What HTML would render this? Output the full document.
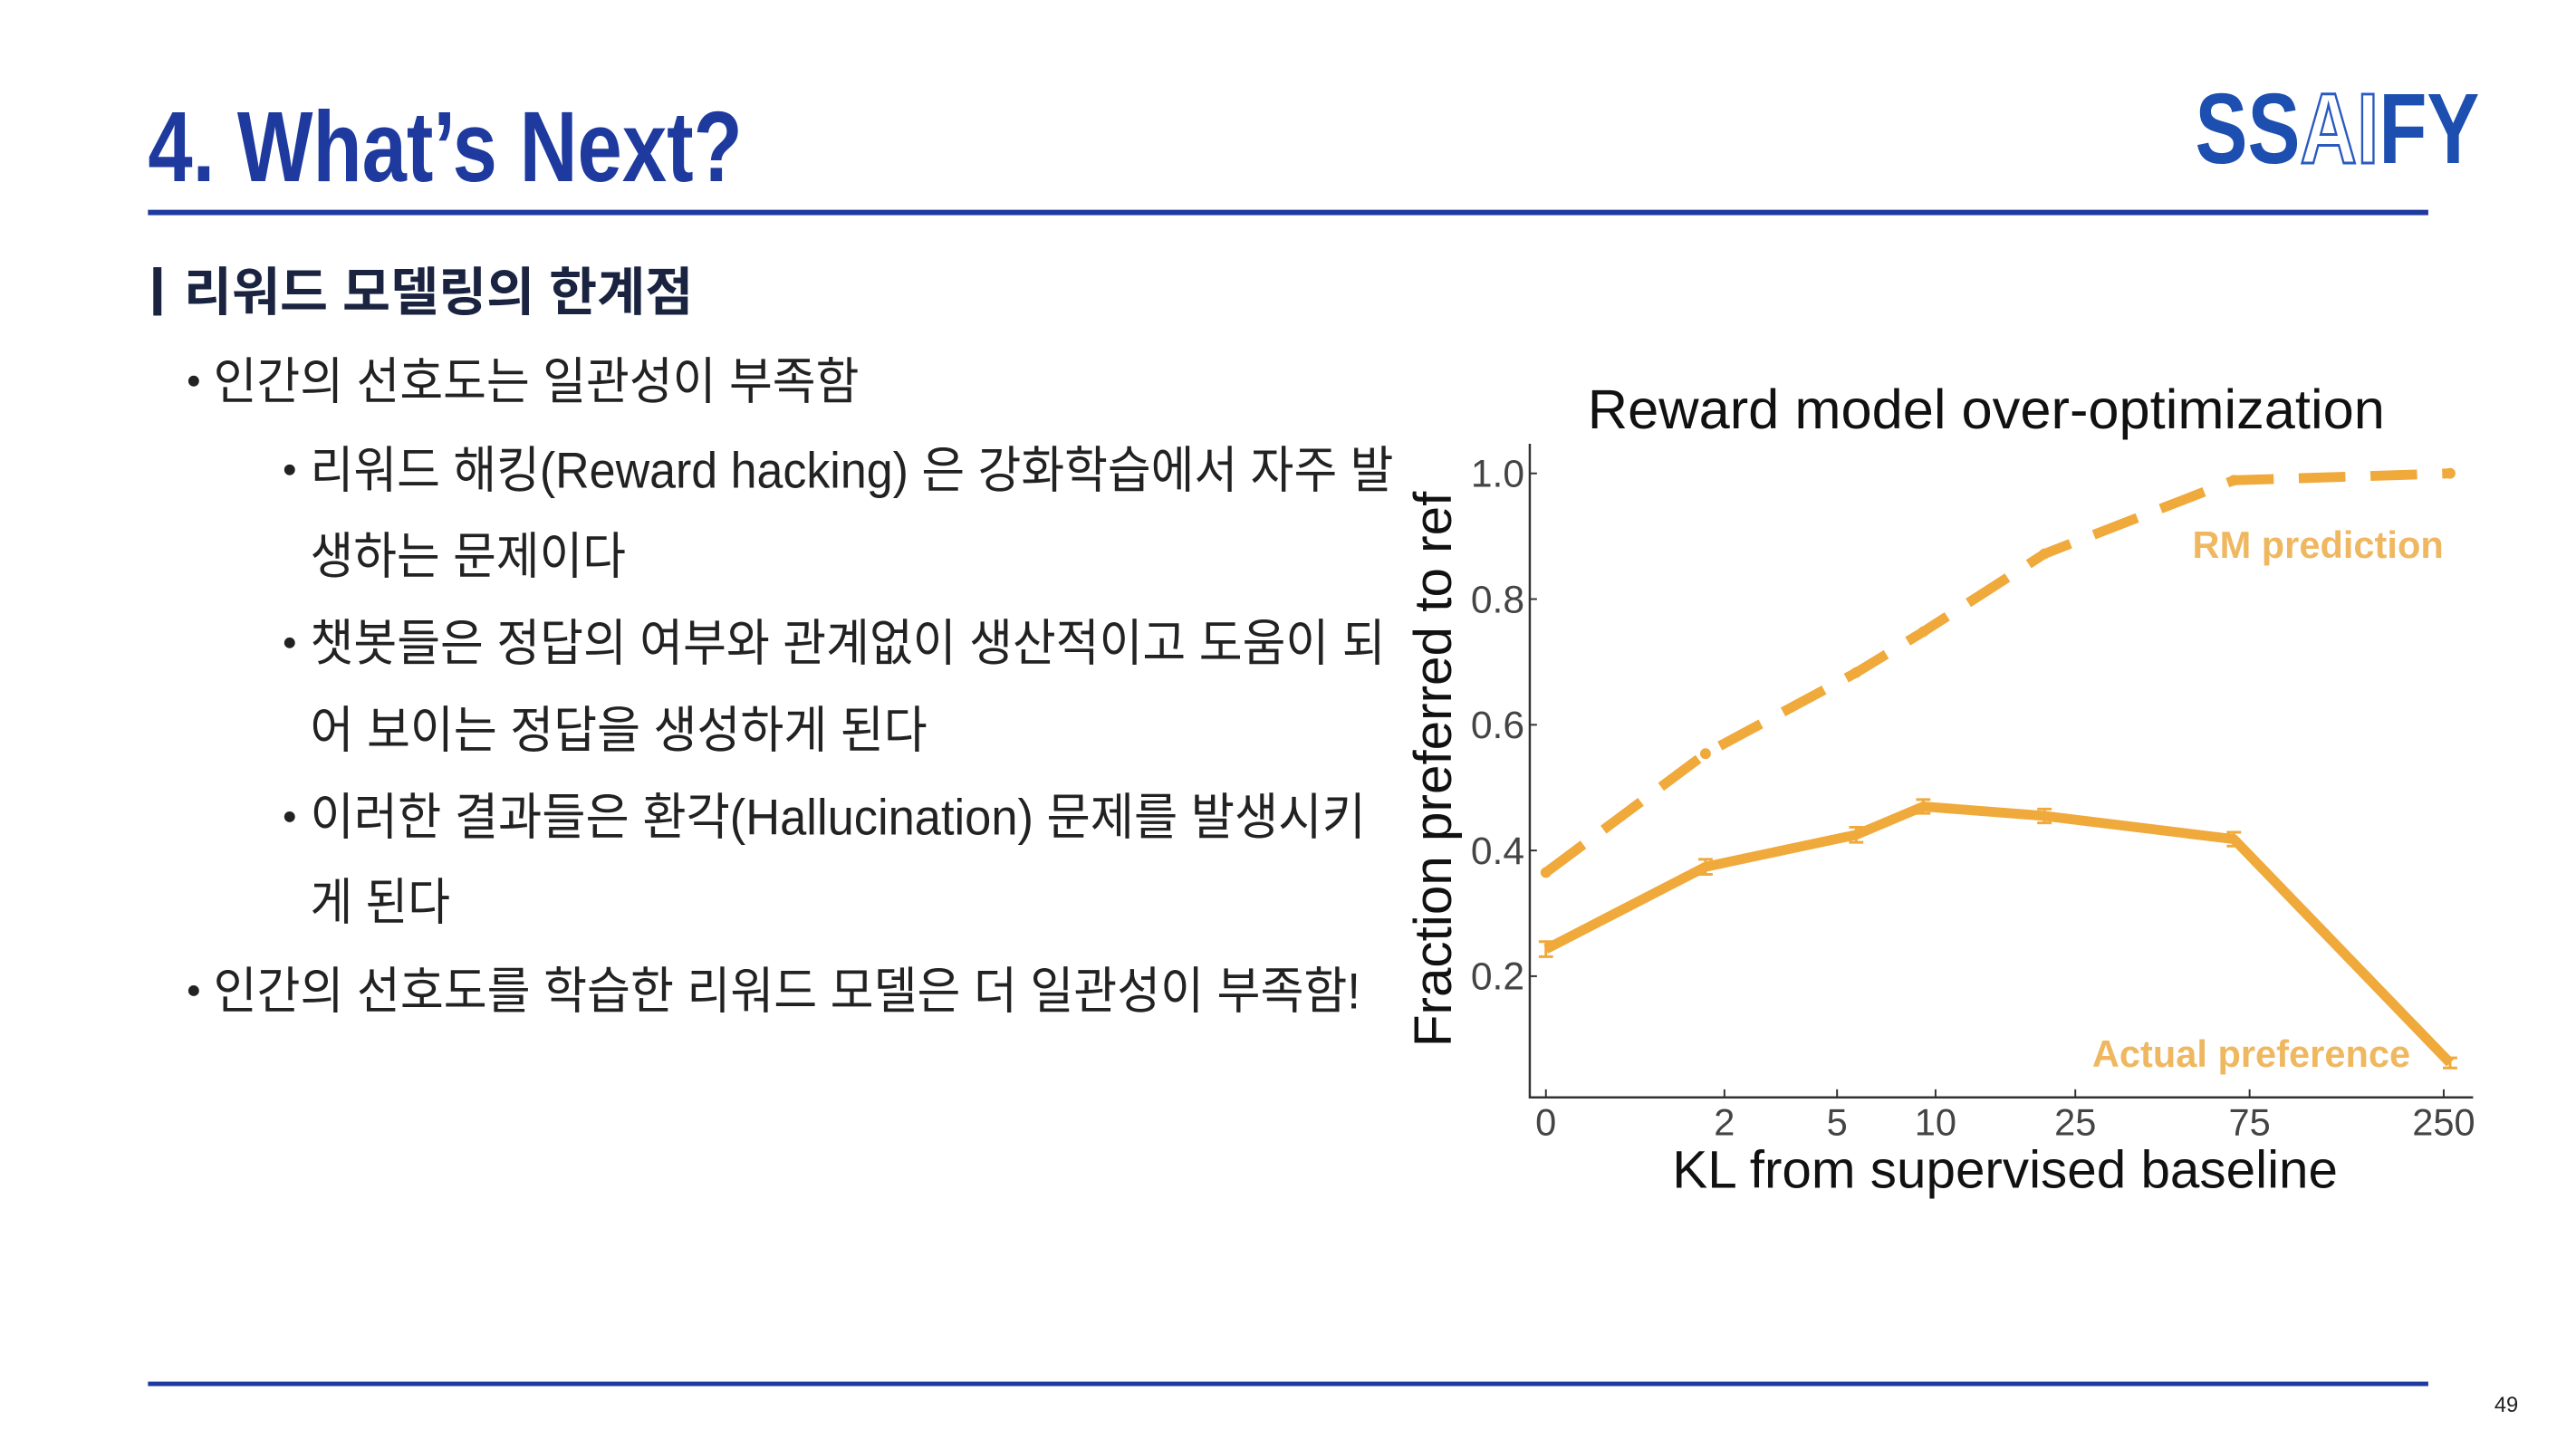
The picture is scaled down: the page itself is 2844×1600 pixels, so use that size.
<!DOCTYPE html>
<html><head><meta charset="utf-8"><style>
html,body{margin:0;padding:0;background:#fff;}
svg{display:block;}
</style></head><body>
<svg id="page" width="2844" height="1600" viewBox="0 0 2844 1600" xmlns="http://www.w3.org/2000/svg">
<rect x="0" y="0" width="2844" height="1600" fill="#fff"/>
<g transform="scale(0.99)">
<text x="165" y="202" font-family="Liberation Sans, sans-serif" font-weight="bold" font-size="112" fill="#1e3a9e" textLength="663" lengthAdjust="spacingAndGlyphs">4. What’s Next?</text>
<g font-family="Liberation Sans, sans-serif" font-weight="bold" font-size="112">
<text x="2448" y="182" fill="#1d4fb0" textLength="317" lengthAdjust="spacingAndGlyphs">SS<tspan fill="#fff" stroke="#2a5ac0" stroke-width="3">AI</tspan>FY</text>
</g>
<rect x="165" y="234" width="2543" height="6" fill="#1e3a9e"/>
<rect x="165" y="1541" width="2543" height="5" fill="#1e3a9e"/>
<text x="2795" y="1575" font-family="Liberation Sans, sans-serif" font-size="24" fill="#222" text-anchor="middle">49</text>

<rect x="171" y="298" width="9" height="54" fill="#1a2340"/>
<text x="205" y="346" font-family="Liberation Sans, 'Noto Sans CJK KR', sans-serif" font-weight="bold" font-size="58" fill="#1a2340" textLength="568" lengthAdjust="spacingAndGlyphs">리워드 모델링의 한계점</text>

<g font-family="Liberation Sans, 'Noto Sans CJK KR', sans-serif" font-size="56" fill="#222">
<circle cx="216" cy="425" r="6" fill="#222"/>
<text x="238" y="445" textLength="720" lengthAdjust="spacingAndGlyphs">인간의 선호도는 일관성이 부족함</text>
<circle cx="323" cy="524" r="6" fill="#222"/>
<text x="346" y="544" textLength="1208" lengthAdjust="spacingAndGlyphs">리워드 해킹(Reward hacking) 은 강화학습에서 자주 발</text>
<text x="346" y="640" textLength="352" lengthAdjust="spacingAndGlyphs">생하는 문제이다</text>
<circle cx="323" cy="717" r="6" fill="#222"/>
<text x="346" y="737" textLength="1199" lengthAdjust="spacingAndGlyphs">챗봇들은 정답의 여부와 관계없이 생산적이고 도움이 되</text>
<text x="346" y="834" textLength="688" lengthAdjust="spacingAndGlyphs">어 보이는 정답을 생성하게 된다</text>
<circle cx="323" cy="911" r="6" fill="#222"/>
<text x="346" y="931" textLength="1177" lengthAdjust="spacingAndGlyphs">이러한 결과들은 환각(Hallucination) 문제를 발생시키</text>
<text x="346" y="1026" textLength="156" lengthAdjust="spacingAndGlyphs">게 된다</text>
<circle cx="216" cy="1105" r="6" fill="#222"/>
<text x="238" y="1125" textLength="1279" lengthAdjust="spacingAndGlyphs">인간의 선호도를 학습한 리워드 모델은 더 일관성이 부족함!</text>
</g>

<g id="chart"></g>
</g>
</svg>
<script>
const xTickValues = [0, 2, 5, 10, 25, 75, 250];
const xTickLabels = ["0", "2", "5", "10", "25", "75", "250"];
const yTickValues = [0.2, 0.4, 0.6, 0.8, 1.0];
const yTickLabels = ["0.2", "0.4", "0.6", "0.8", "1.0"];
const klValues = [0, 1.67, 5.75, 9.2, 20.5, 68, 260];
const rmPrediction = [0.365, 0.554, 0.683, 0.748, 0.872, 0.989, 1.0];
const actualPreference = [0.243, 0.374, 0.425, 0.470, 0.455, 0.418, 0.062];
const actualError = [0.012, 0.012, 0.012, 0.011, 0.011, 0.011, 0.008];

const NS = "http://www.w3.org/2000/svg";
const chart = document.getElementById("chart");
const X0 = 1724, XU = 181.2, Y1 = 528, YU = 701;
function xs(v){ return X0 + Math.log(1 + v) * XU; }
function ys(v){ return Y1 + (1 - v) * YU; }
function mk(tag, attrs, parent){
  const e = document.createElementNS(NS, tag);
  for (const k in attrs) e.setAttribute(k, attrs[k]);
  (parent || chart).appendChild(e);
  return e;
}
const F = "Liberation Sans, sans-serif";
let t = mk("text", {x: 2215, y: 478, "font-family": F, "font-size": 62, fill: "#111", "text-anchor": "middle"});


t.textContent = "Reward model over-optimization";

let ax = mk("line", {x1: 1706, y1: 495, x2: 1706, y2: 1225, stroke: "#333", "stroke-width": 2.5});


let bx = mk("line", {x1: 1705, y1: 1224, x2: 2758, y2: 1224, stroke: "#333", "stroke-width": 2.5});



yTickValues.forEach((v, i) => {
  const y = ys(v);
  const tk = mk("line", {x1: 1706, y1: y, x2: 1714, y2: y, stroke: "#333", "stroke-width": 2});
  
  
  const lb = mk("text", {x: 1700, y: y + 15, "font-family": F, "font-size": 43, fill: "#444", "text-anchor": "end"});
  
  
  lb.textContent = yTickLabels[i];
});
xTickValues.forEach((v, i) => {
  const x = xs(v);
  const tk = mk("line", {x1: x, y1: 1224, x2: x, y2: 1215, stroke: "#333", "stroke-width": 2});
  
  
  const lb = mk("text", {x: x, y: 1266, "font-family": F, "font-size": 42, fill: "#444", "text-anchor": "middle"});
  
  
  lb.textContent = xTickLabels[i];
});
let yl = mk("text", {x: 0, y: 0, "font-family": F, "font-size": 59, fill: "#111", "text-anchor": "middle", transform: "translate(1618,858) rotate(-90)"});


yl.textContent = "Fraction preferred to ref";
let xl = mk("text", {x: 2236, y: 1325, "font-family": F, "font-size": 59, fill: "#111", "text-anchor": "middle"});


xl.textContent = "KL from supervised baseline";

const ORANGE = "#f0a93b";
const rmPts = klValues.map((k, i) => xs(k) + "," + ys(rmPrediction[i])).join(" ");
let rm = mk("polyline", {points: rmPts, fill: "none", stroke: ORANGE, "stroke-width": 11, "stroke-dasharray": "52 28", "stroke-linejoin": "round"});


klValues.forEach((k, i) => {
  const c = mk("circle", {cx: xs(k), cy: ys(rmPrediction[i]), r: 6, fill: ORANGE});
  
  
});
const acPts = klValues.map((k, i) => xs(k) + "," + ys(actualPreference[i])).join(" ");
let ac = mk("polyline", {points: acPts, fill: "none", stroke: ORANGE, "stroke-width": 11, "stroke-linejoin": "round"});


klValues.forEach((k, i) => {
  const x = xs(k), y1 = ys(actualPreference[i] + actualError[i]), y2 = ys(actualPreference[i] - actualError[i]);
  const e = mk("path", {d: `M${x},${y1}V${y2}M${x-8},${y1}H${x+8}M${x-8},${y2}H${x+8}`, stroke: ORANGE, "stroke-width": 3, fill: "none"});
  
  
});
let l1 = mk("text", {x: 2725, y: 622, "font-family": F, "font-size": 42, "font-weight": "bold", fill: "#efb860", "text-anchor": "end"});


l1.textContent = "RM prediction";
let l2 = mk("text", {x: 2688, y: 1190, "font-family": F, "font-size": 42, "font-weight": "bold", fill: "#efb860", "text-anchor": "end"});


l2.textContent = "Actual preference";
</script>
</body></html>
